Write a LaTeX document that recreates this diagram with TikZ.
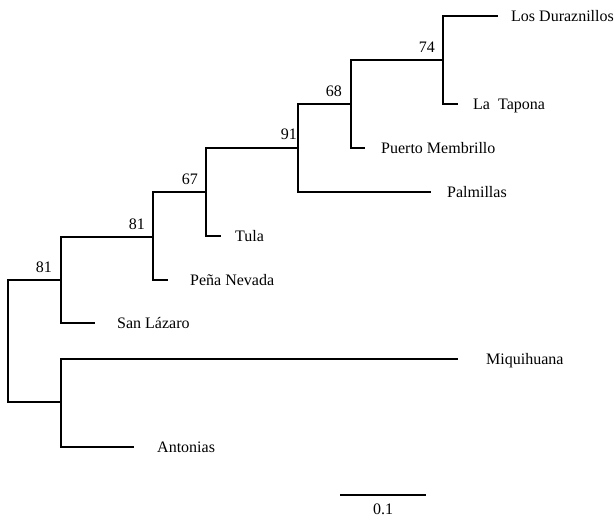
\documentclass[tikz,border=0pt]{standalone}
\usepackage{fontspec}
\setmainfont{Liberation Serif}
\begin{document}
\begin{tikzpicture}[x=1pt,y=-1pt,
  branch/.style={line width=1.7pt,line cap=rect},
  taxon/.style={anchor=base west,inner sep=0pt,font=\fontsize{16}{19}\selectfont},
  boot/.style={anchor=base east,inner sep=0pt,font=\fontsize{16}{19}\selectfont}]
\useasboundingbox (0,0) rectangle (616,516);
% internal nodes
\coordinate (root) at (8,341);
\coordinate (n81a) at (61,280);
\coordinate (n81b) at (153,237);
\coordinate (n67) at (206,192);
\coordinate (n91) at (298,148);
\coordinate (n68) at (351,104);
\coordinate (n74) at (443,60);
\coordinate (nMA) at (61,402);
% tips
\coordinate (tLD) at (497,16);
\coordinate (tLT) at (457,104);
\coordinate (tPM) at (364,148);
\coordinate (tPa) at (430,192);
\coordinate (tTu) at (220,236);
\coordinate (tPN) at (167,280);
\coordinate (tSL) at (94,323);
\coordinate (tMi) at (457,359);
\coordinate (tAn) at (133,447);
% branches
\draw[branch] (root) |- (n81a);
\draw[branch] (root) |- (nMA);
\draw[branch] (n81a) |- (n81b);
\draw[branch] (n81a) |- (tSL);
\draw[branch] (n81b) |- (n67);
\draw[branch] (n81b) |- (tPN);
\draw[branch] (n67) |- (n91);
\draw[branch] (n67) |- (tTu);
\draw[branch] (n91) |- (n68);
\draw[branch] (n91) |- (tPa);
\draw[branch] (n68) |- (n74);
\draw[branch] (n68) |- (tPM);
\draw[branch] (n74) |- (tLD);
\draw[branch] (n74) |- (tLT);
\draw[branch] (nMA) |- (tMi);
\draw[branch] (nMA) |- (tAn);
% taxon labels
\node[taxon] (lLD) at (511,21.5) {Los Duraznillos};
\node[taxon] (lLT) at (473,109.5) {La\ \ Tapona};
\node[taxon] (lPM) at (381,153.5) {Puerto Membrillo};
\node[taxon] (lPa) at (447,197.5) {Palmillas};
\node[taxon] (lTu) at (235,241.5) {Tula};
\node[taxon] (lPN) at (190,285.5) {Peña Nevada};
\node[taxon] (lSL) at (117,328.5) {San Lázaro};
\node[taxon] (lMi) at (486,364.5) {Miquihuana};
\node[taxon] (lAn) at (157,452.5) {Antonias};
% bootstrap values
\node[boot] (b74) at (435,53) {74};
\node[boot] (b68) at (342,97) {68};
\node[boot] (b91) at (297,140) {91};
\node[boot] (b67) at (198,185) {67};
\node[boot] (b81b) at (145,229) {81};
\node[boot] (b81a) at (52,272) {81};
% scale bar
\coordinate (sb1) at (340,495);
\coordinate (sb2) at (426,495);
\draw[line width=1.5pt] (sb1) -- (sb2);
\node[anchor=base,inner sep=0pt,font=\fontsize{16}{19}\selectfont] (sbl) at (383,514) {0.1};
\end{tikzpicture}
\end{document}
